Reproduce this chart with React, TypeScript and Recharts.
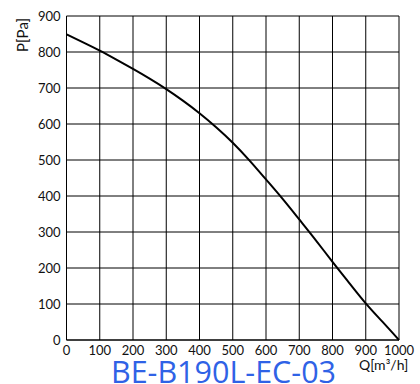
import React from "react";
import { LineChart, Line, XAxis, YAxis, CartesianGrid } from "recharts";

const flowQ = [0, 50, 100, 150, 200, 250, 300, 350, 400, 450, 500, 550, 600, 650, 700, 750, 800, 850, 900, 950, 1000];
const pressureP = [849, 827, 804, 779, 753, 726, 697, 665, 630, 591, 548, 499, 446, 392, 335, 277, 217, 159, 102, 51, 0];
const xTicks = [0, 100, 200, 300, 400, 500, 600, 700, 800, 900, 1000];
const yTicks = [0, 100, 200, 300, 400, 500, 600, 700, 800, 900];
const titleText = "BE-B190L-EC-03";
const xLabel = "Q[m³/h]";
const yLabel = "P[Pa]";

const data = flowQ.map((q, i) => ({ q, p: pressureP[i] }));

const tickFont = { fontFamily: "Lato, 'Open Sans', sans-serif", fontSize: 13, fill: "#111" };

export default function App() {
  return (
    <div style={{ position: "absolute", left: 0, top: 0, width: 420, height: 384, background: "#fff", overflow: "hidden" }}>
      <LineChart width={420} height={384} data={data} margin={{ top: 16, right: 21, left: 0, bottom: 0 }}>
        <CartesianGrid stroke="#000" strokeWidth={1} vertical horizontal />
        <XAxis
          dataKey="q"
          type="number"
          domain={[0, 1000]}
          ticks={xTicks}
          tickLine={false}
          axisLine={{ stroke: "#000" }}
          tick={tickFont}
          height={44}
          interval={0}
          tickMargin={0}
        />
        <YAxis
          type="number"
          domain={[0, 900]}
          ticks={yTicks}
          tickLine={false}
          axisLine={{ stroke: "#000" }}
          tick={tickFont}
          width={66.5}
          interval={0}
          tickMargin={0}
        />
        <Line
          type="natural"
          dataKey="p"
          stroke="#000"
          strokeWidth={2}
          dot={false}
          isAnimationActive={false}
        />
      </LineChart>
      <div
        style={{
          position: "absolute",
          left: 0,
          width: 447,
          top: 357.5,
          textAlign: "center",
          fontFamily: "'Open Sans', sans-serif",
          fontSize: 30.5,
          lineHeight: "26px",
          color: "#2f62e6",
          whiteSpace: "nowrap",
        }}
      >
        {titleText}
      </div>
      <div
        style={{
          position: "absolute",
          left: 359,
          top: 356,
          fontFamily: "Lato, sans-serif",
          fontSize: 14,
          lineHeight: "18px",
          color: "#111",
          whiteSpace: "nowrap",
        }}
      >
        {xLabel}
      </div>
      <div
        style={{
          position: "absolute",
          left: 22,
          top: 35,
          fontFamily: "Lato, sans-serif",
          fontSize: 15,
          lineHeight: "18px",
          color: "#111",
          whiteSpace: "nowrap",
          transform: "translate(-50%, -50%) rotate(-90deg)",
        }}
      >
        {yLabel}
      </div>
    </div>
  );
}
